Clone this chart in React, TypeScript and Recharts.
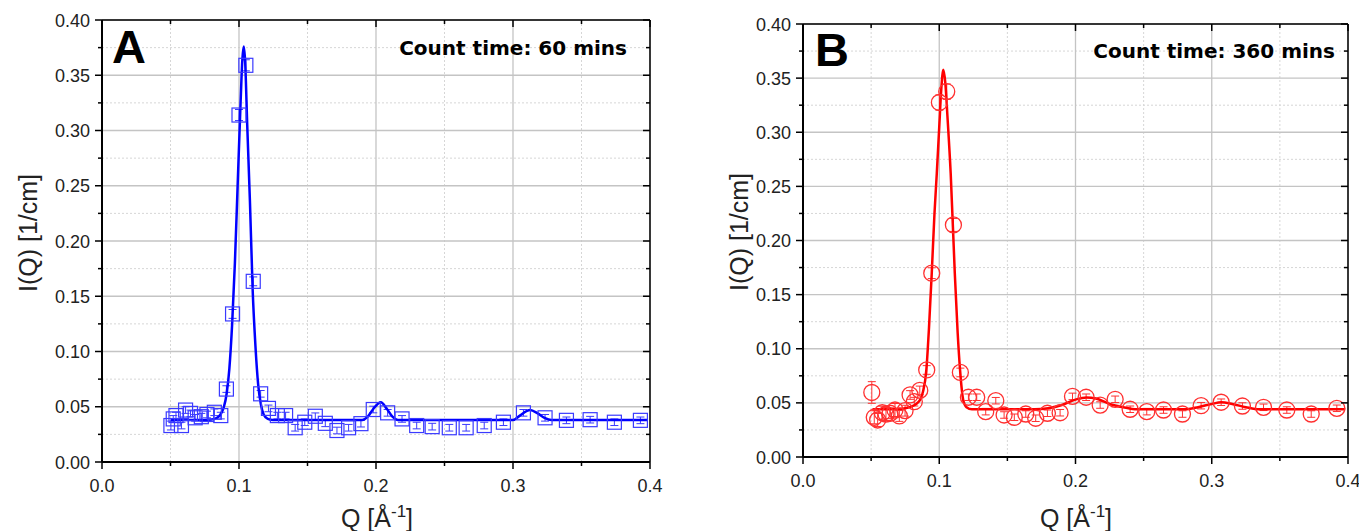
import React from 'react'
import {
  ComposedChart, Line, Scatter, ErrorBar, XAxis, YAxis, CartesianGrid,
} from 'recharts'

// x ticks (Q) and y ticks (I(Q)); majors carry labels
const xTicks = [0, 0.05, 0.1, 0.15, 0.2, 0.25, 0.3, 0.35, 0.4]
const xMajor = [0, 0.1, 0.2, 0.3, 0.4]
const xMinor = [0.05, 0.15, 0.25, 0.35]
const yTicks = [0, 0.025, 0.05, 0.075, 0.1, 0.125, 0.15, 0.175, 0.2, 0.225, 0.25, 0.275, 0.3, 0.325, 0.35, 0.375, 0.4]
const yMajor = [0, 0.05, 0.1, 0.15, 0.2, 0.25, 0.3, 0.35, 0.4]
const yMinor = [0.025, 0.075, 0.125, 0.175, 0.225, 0.275, 0.325, 0.375]

// panel A: 60 min count, measured points
const qA = [0.0503, 0.052, 0.054, 0.058, 0.061, 0.0646, 0.068, 0.0725, 0.0766, 0.082, 0.0867, 0.0908, 0.0953, 0.1, 0.105, 0.1104, 0.1158, 0.1215, 0.128, 0.134, 0.141, 0.148, 0.1557, 0.163, 0.1715, 0.18, 0.189, 0.198, 0.2085, 0.219, 0.2297, 0.241, 0.2535, 0.2658, 0.279, 0.293, 0.3076, 0.3234, 0.339, 0.3563, 0.374, 0.393]
const iA = [0.033, 0.039, 0.042, 0.033, 0.047, 0.044, 0.04, 0.041, 0.043, 0.045, 0.042, 0.066, 0.134, 0.314, 0.359, 0.1635, 0.0617, 0.0485, 0.042, 0.042, 0.031, 0.036, 0.0414, 0.035, 0.0285, 0.031, 0.0347, 0.0475, 0.0445, 0.039, 0.033, 0.032, 0.031, 0.031, 0.033, 0.036, 0.0445, 0.04, 0.0377, 0.0383, 0.036, 0.0377]
const errA = [0.004, 0.003, 0.003, 0.003, 0.003, 0.003, 0.003, 0.003, 0.003, 0.003, 0.003, 0.003, 0.004, 0.005, 0.005, 0.004, 0.003, 0.003, 0.003, 0.003, 0.003, 0.003, 0.003, 0.003, 0.003, 0.003, 0.003, 0.003, 0.003, 0.003, 0.003, 0.003, 0.003, 0.003, 0.003, 0.003, 0.003, 0.003, 0.003, 0.003, 0.003, 0.003]
// panel A: fit curve
const fitQA = [0.05, 0.06, 0.07, 0.08, 0.084, 0.087, 0.089, 0.091, 0.093, 0.095, 0.097, 0.099, 0.101, 0.1025, 0.1035, 0.1045, 0.106, 0.108, 0.11, 0.112, 0.114, 0.116, 0.118, 0.121, 0.125, 0.19, 0.194, 0.198, 0.2035, 0.208, 0.212, 0.216, 0.3, 0.305, 0.3125, 0.318, 0.323, 0.328, 0.398]
const fitIA = [0.038, 0.038, 0.038, 0.0385, 0.04, 0.044, 0.05, 0.062, 0.085, 0.125, 0.18, 0.25, 0.32, 0.365, 0.376, 0.362, 0.305, 0.235, 0.155, 0.105, 0.07, 0.052, 0.043, 0.039, 0.038, 0.038, 0.041, 0.048, 0.054, 0.048, 0.041, 0.038, 0.038, 0.042, 0.047, 0.044, 0.04, 0.038, 0.038]

// panel B: 360 min count
const qB = [0.0505, 0.0523, 0.0548, 0.0582, 0.0609, 0.0639, 0.0675, 0.0707, 0.0749, 0.0786, 0.0817, 0.0857, 0.0908, 0.0945, 0.1001, 0.1055, 0.1104, 0.1155, 0.1214, 0.1275, 0.1341, 0.1415, 0.1476, 0.1551, 0.1635, 0.1708, 0.1794, 0.1887, 0.1978, 0.2078, 0.2181, 0.2291, 0.2401, 0.2523, 0.2646, 0.2785, 0.2922, 0.3069, 0.3225, 0.338, 0.3551, 0.373, 0.3918]
const iB = [0.0596, 0.0367, 0.0342, 0.0409, 0.0397, 0.0404, 0.0434, 0.0379, 0.0428, 0.0573, 0.0511, 0.0615, 0.0804, 0.1698, 0.3275, 0.3376, 0.2144, 0.0781, 0.0552, 0.0552, 0.0419, 0.052, 0.0388, 0.0367, 0.0397, 0.0358, 0.0404, 0.0409, 0.056, 0.0552, 0.048, 0.0533, 0.0441, 0.0419, 0.0434, 0.0397, 0.0474, 0.0506, 0.0471, 0.0459, 0.0434, 0.0397, 0.045]
const errB = [0.01, 0.006, 0.006, 0.006, 0.006, 0.005, 0.006, 0.005, 0.005, 0.004, 0.004, 0.004, 0.004, 0.005, 0.007, 0.007, 0.006, 0.004, 0.003, 0.003, 0.003, 0.003, 0.003, 0.003, 0.003, 0.003, 0.003, 0.003, 0.003, 0.003, 0.003, 0.003, 0.003, 0.003, 0.003, 0.003, 0.003, 0.003, 0.003, 0.003, 0.003, 0.003, 0.003]
const fitQB = [0.051, 0.06, 0.07, 0.078, 0.082, 0.084, 0.086, 0.088, 0.0905, 0.0925, 0.0945, 0.0965, 0.0982, 0.1, 0.1015, 0.103, 0.1045, 0.106, 0.1084, 0.1114, 0.1135, 0.1153, 0.1177, 0.12, 0.124, 0.17, 0.18, 0.19, 0.2, 0.208, 0.215, 0.225, 0.235, 0.245, 0.28, 0.29, 0.3, 0.307, 0.315, 0.325, 0.335, 0.398]
const fitIB = [0.044, 0.044, 0.0443, 0.046, 0.048, 0.05, 0.053, 0.06, 0.08, 0.12, 0.17, 0.225, 0.262, 0.305, 0.34, 0.3577, 0.345, 0.315, 0.262, 0.17, 0.115, 0.08, 0.052, 0.046, 0.044, 0.044, 0.045, 0.048, 0.053, 0.055, 0.054, 0.049, 0.046, 0.044, 0.044, 0.046, 0.049, 0.0505, 0.049, 0.046, 0.044, 0.044]

const near = (v: number, list: number[]) => list.some((t) => Math.abs(t - v) < 1e-6)
const tickFont = { fontFamily: 'Liberation Sans, Arial, sans-serif', fontSize: 18, fill: '#222' }

const LeftTick = (p: any) => {
  const major = near(p.payload.value, yMajor)
  return (
    <g>
      <line x1={p.x - (major ? 7 : 4)} x2={p.x} y1={p.y} y2={p.y} stroke="#000" strokeWidth={1.5} />
      {major && <text x={p.x - 12} y={p.y + 6.5} textAnchor="end" {...tickFont}>{p.payload.value.toFixed(2)}</text>}
    </g>
  )
}
// right and top frame ticks point inward
const RightTick = (p: any) => {
  const major = near(p.payload.value, yMajor)
  return <line x1={p.x - (major ? 7 : 4)} x2={p.x} y1={p.y} y2={p.y} stroke="#000" strokeWidth={1.5} />
}
const BottomTick = (p: any) => {
  const major = near(p.payload.value, xMajor)
  return (
    <g>
      <line x1={p.x} x2={p.x} y1={p.y} y2={p.y + (major ? 7 : 4)} stroke="#000" strokeWidth={1.5} />
      {major && <text x={p.x} y={p.y + 30} textAnchor="middle" {...tickFont}>{p.payload.value.toFixed(1)}</text>}
    </g>
  )
}
const TopTick = (p: any) => {
  const major = near(p.payload.value, xMajor)
  return <line x1={p.x} x2={p.x} y1={p.y} y2={p.y + (major ? 7 : 4)} stroke="#000" strokeWidth={1.5} />
}

const Square = (p: any) => (
  <rect x={p.cx - 7} y={p.cy - 7} width={14} height={14} fill="none" stroke="#3a3aff" strokeWidth={1.2} />
)
const Ring = (p: any) => (
  <circle cx={p.cx} cy={p.cy} r={8} fill="none" stroke="#ff3030" strokeWidth={1.3} />
)

interface PanelProps {
  width: number
  margin: { top: number; right: number; bottom: number; left: number }
  xAxisHeight: number
  points: { x: number; y: number; err: number }[]
  fit: { x: number; y: number }[]
  color: string
  markerColor: string
  shape: (p: any) => React.ReactElement
}

function Panel({ width, margin, xAxisHeight, points, fit, color, markerColor, shape }: PanelProps) {
  return (
    <ComposedChart width={width} height={531} margin={margin}>
      <CartesianGrid horizontalValues={yMinor} verticalValues={xMinor} stroke="#d6d6d6" strokeDasharray="2 2" />
      <CartesianGrid horizontalValues={yMajor} verticalValues={xMajor} stroke="#c4c4c4" strokeWidth={1.3} />
      <XAxis type="number" dataKey="x" domain={[0, 0.4]} ticks={xTicks} interval={0} height={xAxisHeight}
        tickSize={0} tickMargin={0} tick={<BottomTick />} axisLine={{ stroke: '#000', strokeWidth: 2 }} tickLine={false} />
      <XAxis xAxisId="top" orientation="top" type="number" dataKey="x" domain={[0, 0.4]} ticks={xTicks} interval={0}
        height={1} tickSize={0} tickMargin={0} tick={<TopTick />} axisLine={{ stroke: '#000', strokeWidth: 1.5 }} tickLine={false} />
      <YAxis type="number" domain={[0, 0.4]} ticks={yTicks} interval={0} width={60}
        tickSize={0} tickMargin={0} tick={<LeftTick />} axisLine={{ stroke: '#000', strokeWidth: 2 }} tickLine={false} />
      <YAxis yAxisId="right" orientation="right" type="number" domain={[0, 0.4]} ticks={yTicks} interval={0} width={1}
        tickSize={0} tickMargin={0} tick={<RightTick />} axisLine={{ stroke: '#000', strokeWidth: 1.5 }} tickLine={false} />
      {/* invisible series so the frame axes (top/right) get drawn */}
      <Line data={fit} dataKey="y" xAxisId="top" yAxisId="right" stroke="none" dot={false} activeDot={false} isAnimationActive={false} />
      <Scatter data={points} dataKey="y" shape={shape} isAnimationActive={false}>
        <ErrorBar dataKey="err" direction="y" width={4} stroke={markerColor} strokeWidth={1} />
      </Scatter>
      <Line data={fit} dataKey="y" type="monotone" stroke={color} strokeWidth={2.5} dot={false} activeDot={false} isAnimationActive={false} />
    </ComposedChart>
  )
}

const pointsA = qA.map((x, i) => ({ x, y: iA[i], err: errA[i] }))
const fitA = fitQA.map((x, i) => ({ x, y: fitIA[i] }))
const pointsB = qB.map((x, i) => ({ x, y: iB[i], err: errB[i] }))
const fitB = fitQB.map((x, i) => ({ x, y: fitIB[i] }))

const titleFont = { fontFamily: 'Liberation Sans, Arial, sans-serif', fontSize: 25, fill: '#222' }
const noteFont = { fontFamily: 'DejaVu Sans, Verdana, sans-serif', fontSize: 20, fontWeight: 700, fill: '#000' }
const letterFont = { fontFamily: 'Liberation Sans, Arial, sans-serif', fontSize: 47, fontWeight: 700, fill: '#000' }

export default function App() {
  return (
    <div style={{ position: 'absolute', left: 0, top: 0, width: 1359, height: 531, background: '#fff', overflow: 'hidden' }}>
      <div style={{ position: 'absolute', left: 0, top: 0 }}>
        <Panel width={680} margin={{ top: 19, right: 29, bottom: 0, left: 42 }} xAxisHeight={69}
          points={pointsA} fit={fitA} color="#0000ff" markerColor="#3a3aff" shape={Square} />
      </div>
      <div style={{ position: 'absolute', left: 680, top: 0 }}>
        <Panel width={679} margin={{ top: 23, right: 10, bottom: 0, left: 63 }} xAxisHeight={74}
          points={pointsB} fit={fitB} color="#ff0000" markerColor="#ff3030" shape={Ring} />
      </div>
      <svg width={1359} height={531} style={{ position: 'absolute', left: 0, top: 0, pointerEvents: 'none' }}>
        <text x={112} y={63} {...letterFont}>A</text>
        <text x={627} y={55} textAnchor="end" {...noteFont}>Count time: 60 mins</text>
        <text x={815} y={66} {...letterFont}>B</text>
        <text x={1335} y={58} textAnchor="end" {...noteFont}>Count time: 360 mins</text>
        <text transform="translate(37,233) rotate(-90)" textAnchor="middle" {...titleFont}>I(Q) [1/cm]</text>
        <text transform="translate(748,232) rotate(-90)" textAnchor="middle" {...titleFont}>I(Q) [1/cm]</text>
        <text x={377} y={527} textAnchor="middle" {...titleFont}>Q [Å<tspan dy={-10} fontSize={17}>-1</tspan><tspan dy={10}>]</tspan></text>
        <text x={1076} y={527} textAnchor="middle" {...titleFont}>Q [Å<tspan dy={-10} fontSize={17}>-1</tspan><tspan dy={10}>]</tspan></text>
      </svg>
    </div>
  )
}
